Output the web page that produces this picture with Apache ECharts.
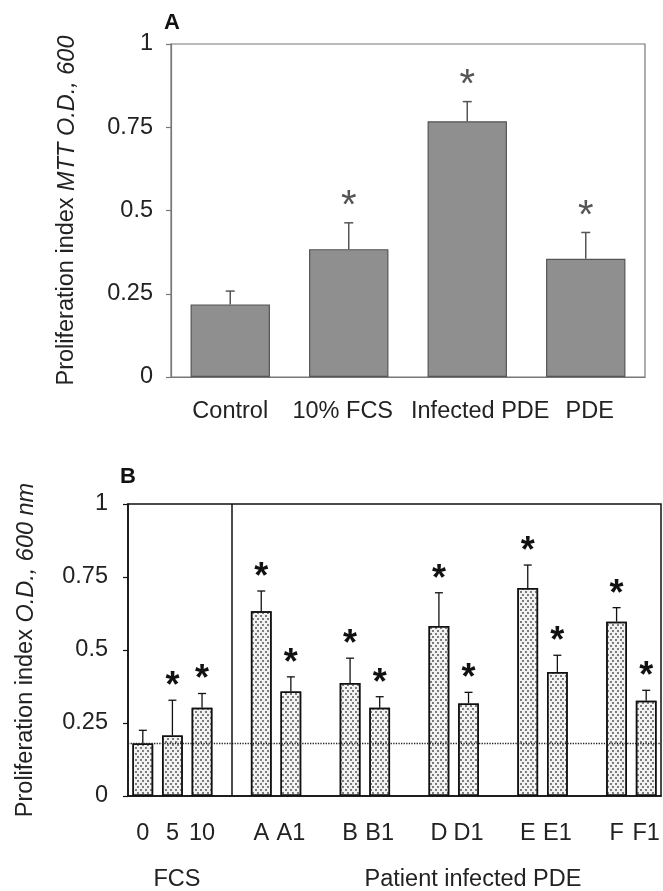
<!DOCTYPE html>
<html>
<head>
<meta charset="utf-8">
<script src="https://cdn.jsdelivr.net/npm/echarts@6/dist/echarts.min.js"></script>
<style>
  html, body { margin: 0; padding: 0; background: #fff; }
  #chart { width: 663px; height: 891px; }
</style>
</head>
<body>
<div id="chart"></div>
<script>
// panel A
const catsA = ['Control', '10% FCS', 'Infected PDE', 'PDE'];
const valsA = [0.218, 0.384, 0.768, 0.355];
const errTopA = [0.258, 0.463, 0.827, 0.434];
const starA = [0, 1, 1, 1];

// panel B ('' = empty slot between groups)
const catsB = ['0', '5', '10', '', 'A', 'A1', '', 'B', 'B1', '', 'D', 'D1', '', 'E', 'E1', '', 'F', 'F1'];
const valsB = [0.18, 0.207, 0.302, null, 0.633, 0.358, null, 0.387, 0.302, null, 0.582, 0.317, null, 0.712, 0.425, null, 0.597, 0.326];
const errTopB = [0.225, 0.328, 0.351, null, 0.702, 0.408, null, 0.472, 0.34, null, 0.696, 0.355, null, 0.791, 0.482, null, 0.645, 0.362];
const starB = [0, 1, 1, 0, 1, 1, 0, 1, 1, 0, 1, 1, 0, 1, 1, 0, 1, 1];
const controlLineB = 0.177;

const FONT = '"Liberation Sans", Arial, Helvetica, sans-serif';
const FS = 23.5;

// labels in panel A sit a little off their ticks in the original
const labelShiftA = [0, -6, 13, 4];
const catItemsA = catsA.map((c, i) => {
  const s = labelShiftA[i];
  return { value: c, textStyle: { padding: s >= 0 ? [0, 0, 0, 2 * s] : [0, -2 * s, 0, 0] } };
});

function errData(vals, tops, stars) {
  const out = [];
  vals.forEach((v, i) => {
    if (v == null) return;
    out.push([i, v, tops[i], stars[i]]);
  });
  return out;
}

function errRender(opts) {
  return function (params, api) {
    const i = api.value(0);
    const base = api.coord([i, api.value(1)]);
    const top = api.coord([i, api.value(2)]);
    const kids = [
      { type: 'line', shape: { x1: base[0], y1: base[1], x2: top[0], y2: top[1] },
        style: { stroke: opts.color, lineWidth: opts.width } },
      { type: 'line', shape: { x1: top[0] - opts.cap, y1: top[1], x2: top[0] + opts.cap, y2: top[1] },
        style: { stroke: opts.color, lineWidth: opts.width } }
    ];
    if (api.value(3)) {
      kids.push({
        type: 'text',
        style: {
          text: '*', x: top[0], y: top[1] - opts.starGap,
          fill: opts.starColor, font: opts.starFont,
          textAlign: 'center', textVerticalAlign: 'middle'
        }
      });
    }
    return { type: 'group', children: kids };
  };
}

const chart = echarts.init(document.getElementById('chart'));

const option = {
  animation: false,
  textStyle: { fontFamily: FONT },
  grid: [
    { left: 171, top: 44, width: 474, height: 333, show: true, borderColor: '#777', borderWidth: 1.2 },
    { left: 128, top: 504, width: 533, height: 292, show: true, borderColor: '#111', borderWidth: 1.5 }
  ],
  xAxis: [
    {
      gridIndex: 0, type: 'category', data: catItemsA,
      axisLine: { lineStyle: { color: '#777', width: 1.2 } },
      axisTick: { alignWithLabel: true, length: 6, lineStyle: { color: '#777', width: 1.2 } },
      axisLabel: { color: '#222', fontSize: FS, margin: 23, interval: 0, fontFamily: FONT }
    },
    {
      gridIndex: 1, type: 'category', data: catsB,
      axisLine: { lineStyle: { color: '#111', width: 1.5 } },
      axisTick: { alignWithLabel: true, interval: 0, length: 5, lineStyle: { color: '#111', width: 1.2 } },
      axisLabel: { color: '#222', fontSize: FS, margin: 26, interval: 0, fontFamily: FONT }
    }
  ],
  yAxis: [
    {
      gridIndex: 0, type: 'value', min: 0, max: 1, interval: 0.25,
      splitLine: { show: false },
      axisLine: { show: true, lineStyle: { color: '#777', width: 1.2 } },
      axisTick: { show: true, length: 5, lineStyle: { color: '#777', width: 1.2 } },
      axisLabel: { color: '#222', fontSize: FS, margin: 18, fontFamily: FONT },
      name: '{n|Proliferation index }{i|MTT O.D., 600}',
      nameLocation: 'middle', nameRotate: 90, nameGap: 92,
      nameTextStyle: {
        rich: {
          n: { fontSize: FS, color: '#222', fontFamily: FONT },
          i: { fontSize: FS, color: '#222', fontStyle: 'italic', fontFamily: FONT }
        }
      }
    },
    {
      gridIndex: 1, type: 'value', min: 0, max: 1, interval: 0.25,
      splitLine: { show: false },
      axisLine: { show: true, lineStyle: { color: '#111', width: 1.5 } },
      axisTick: { show: true, length: 5, lineStyle: { color: '#111', width: 1.2 } },
      axisLabel: { color: '#222', fontSize: FS, margin: 20, fontFamily: FONT },
      name: '{n|Proliferation index }{i|O.D., 600 nm}',
      nameLocation: 'middle', nameRotate: 90, nameGap: 90,
      nameTextStyle: {
        rich: {
          n: { fontSize: FS, color: '#222', fontFamily: FONT },
          i: { fontSize: FS, color: '#222', fontStyle: 'italic', fontFamily: FONT }
        }
      }
    }
  ],
  series: [
    {
      type: 'bar', xAxisIndex: 0, yAxisIndex: 0, data: valsA, barWidth: '67%',
      itemStyle: { color: '#8f8f8f', borderColor: '#555', borderWidth: 1.2 }
    },
    {
      type: 'custom', xAxisIndex: 0, yAxisIndex: 0, data: errData(valsA, errTopA, starA),
      renderItem: errRender({ color: '#555', width: 1.5, cap: 4.5, starGap: 16, starColor: '#555', starFont: '40px ' + FONT }),
      z: 5
    },
    {
      type: 'bar', xAxisIndex: 1, yAxisIndex: 1, data: valsB, barWidth: '70%',
      itemStyle: {
        color: '#f2f2f2', borderColor: '#111', borderWidth: 1.5,
        decal: { symbol: 'circle', symbolSize: 0.9, color: '#444', dashArrayX: [[1.5, 2.5], [0, 2, 1.5, 0.5]], dashArrayY: [1.5, 0.5] }
      },
      markLine: {
        silent: true, symbol: ['none', 'none'], label: { show: false },
        data: [
          { yAxis: controlLineB, lineStyle: { type: 'dotted', color: '#222', width: 1.3 } },
          { xAxis: 3, lineStyle: { type: 'solid', color: '#111', width: 1.5 } }
        ]
      }
    },
    {
      type: 'custom', xAxisIndex: 1, yAxisIndex: 1, data: errData(valsB, errTopB, starB),
      renderItem: errRender({ color: '#111', width: 1.3, cap: 4, starGap: 13, starColor: '#111', starFont: 'bold 36px ' + FONT }),
      z: 5
    }
  ],
  graphic: [
    { type: 'text', left: 164, top: 12, style: { text: 'A', font: 'bold 22px ' + FONT, fill: '#111' } },
    { type: 'text', left: 120, top: 466, style: { text: 'B', font: 'bold 22px ' + FONT, fill: '#111' } },
    { type: 'text', x: 177, y: 880, style: { text: 'FCS', font: FS + 'px ' + FONT, fill: '#222', textAlign: 'center', textVerticalAlign: 'middle' } },
    { type: 'text', x: 473, y: 880, style: { text: 'Patient infected PDE', font: FS + 'px ' + FONT, fill: '#222', textAlign: 'center', textVerticalAlign: 'middle' } }
  ]
};

chart.setOption(option);
</script>
</body>
</html>
